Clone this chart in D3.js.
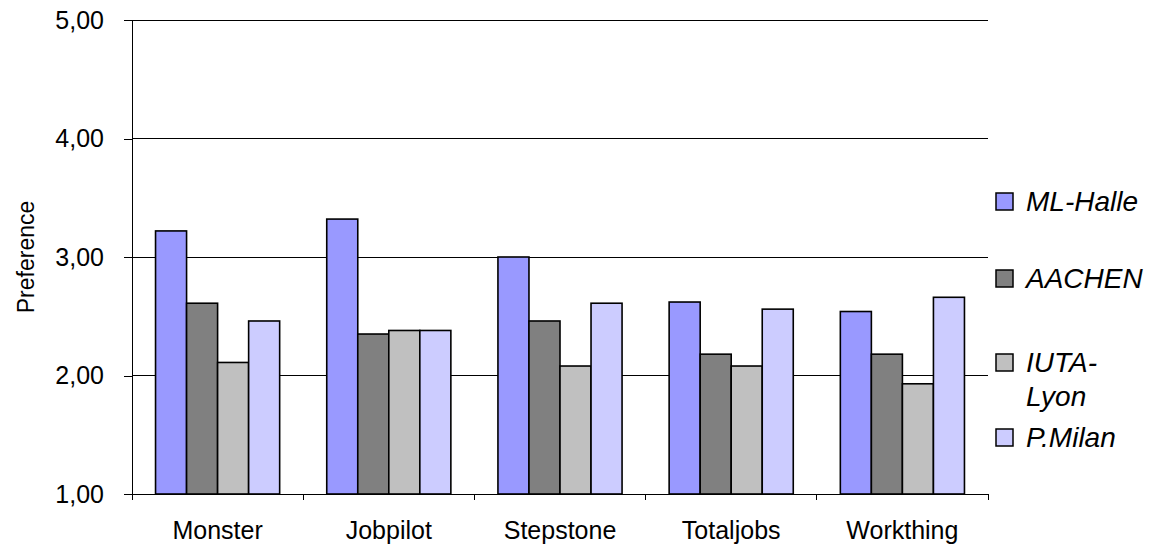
<!DOCTYPE html>
<html>
<head>
<meta charset="utf-8">
<script src="https://cdn.jsdelivr.net/npm/d3@7"></script>
<style>
  body { margin: 0; background: #fff; }
  svg { display: block; font-family: "Liberation Sans", Arial, sans-serif; }
</style>
</head>
<body>
<svg id="chart" width="1154" height="544"></svg>
<script>
const categories = ["Monster", "Jobpilot", "Stepstone", "Totaljobs", "Workthing"];
const seriesNames = ["ML-Halle", "AACHEN", "IUTA-Lyon", "P.Milan"];
const legendLabels = [["ML-Halle"], ["AACHEN"], ["IUTA-", "Lyon"], ["P.Milan"]];
const seriesColors = ["#9999FF", "#808080", "#C0C0C0", "#CCCCFF"];
const mlHalle  = [3.22, 3.32, 3.00, 2.62, 2.54];
const aachen   = [2.61, 2.35, 2.46, 2.18, 2.18];
const iutaLyon = [2.11, 2.38, 2.08, 2.08, 1.93];
const pMilan   = [2.46, 2.38, 2.61, 2.56, 2.66];
const yTicks = [1, 2, 3, 4, 5];
const yLabel = "Preference";

const seriesValues = [mlHalle, aachen, iutaLyon, pMilan];

const svg = d3.select("#chart");
const mLeft = 132, mRight = 988, mTop = 20, mBottom = 494;

const x0 = d3.scaleBand().domain(categories).range([mLeft, mRight])
  .paddingInner(0.275).paddingOuter(0.1375);
const x1 = d3.scaleBand().domain(seriesNames).range([0, x0.bandwidth()]);
const y = d3.scaleLinear().domain([1, 5]).range([mBottom, mTop]);
const color = d3.scaleOrdinal().domain(seriesNames).range(seriesColors);
const fmt = v => d3.format(".2f")(v).replace(".", ",");

// gridlines
svg.append("g").selectAll("line").data(yTicks.filter(t => t > 1)).join("line")
  .attr("x1", mLeft).attr("x2", mRight)
  .attr("y1", d => y(d)).attr("y2", d => y(d))
  .attr("stroke", "#000").attr("stroke-width", 1).attr("shape-rendering", "crispEdges");

// bars
const rows = categories.map((c, i) => ({ cat: c, vals: seriesNames.map((s, j) => ({ s, v: seriesValues[j][i] })) }));
svg.append("g").selectAll("g").data(rows).join("g")
  .attr("transform", d => `translate(${x0(d.cat)},0)`)
  .selectAll("rect").data(d => d.vals).join("rect")
  .attr("x", d => x1(d.s)).attr("width", x1.bandwidth())
  .attr("y", d => y(d.v)).attr("height", d => y(1) - y(d.v))
  .attr("fill", d => color(d.s))
  .attr("stroke", "#000").attr("stroke-width", 1.6);

// y axis
const yAxis = d3.axisLeft(y).tickValues(yTicks).tickFormat(fmt).tickSize(8).tickPadding(20);
const gy = svg.append("g").attr("transform", `translate(${mLeft},0)`).call(yAxis);
gy.select(".domain").remove();
gy.selectAll(".tick line").attr("stroke", "#000").attr("shape-rendering", "crispEdges");
gy.selectAll(".tick text").attr("font-size", 25).attr("fill", "#000")
  .attr("font-family", "Liberation Sans, Arial, sans-serif").attr("dy", "0.33em");
svg.append("line").attr("x1", mLeft).attr("x2", mLeft).attr("y1", y(5)).attr("y2", mBottom + 6)
  .attr("stroke", "#000").attr("shape-rendering", "crispEdges");

// x axis
svg.append("line").attr("x1", mLeft).attr("x2", mRight).attr("y1", mBottom).attr("y2", mBottom)
  .attr("stroke", "#000").attr("shape-rendering", "crispEdges");
const bounds = categories.map(c => x0(c) - x0.step() * x0.paddingInner() / 2).concat([mRight]);
svg.append("g").selectAll("line").data(bounds).join("line")
  .attr("x1", d => d).attr("x2", d => d).attr("y1", mBottom).attr("y2", mBottom + 6)
  .attr("stroke", "#000").attr("shape-rendering", "crispEdges");
svg.append("g").selectAll("text").data(categories).join("text")
  .attr("x", d => x0(d) + x0.bandwidth() / 2).attr("y", 539)
  .attr("text-anchor", "middle").attr("font-size", 25).attr("fill", "#000")
  .text(d => d);

// y label
svg.append("text").attr("transform", "translate(34,257) rotate(-90)")
  .attr("text-anchor", "middle").attr("font-size", 23).attr("fill", "#000").text(yLabel);

// legend
const legendBase = [211, 288, 372, 447];
const lg = svg.append("g").selectAll("g").data(seriesNames).join("g");
lg.append("rect").attr("x", 996).attr("y", (d, i) => legendBase[i] - 18)
  .attr("width", 17).attr("height", 17)
  .attr("fill", d => color(d)).attr("stroke", "#000").attr("stroke-width", 1.5);
lg.append("text").attr("x", 1026).attr("y", (d, i) => legendBase[i])
  .attr("font-size", 28).attr("font-style", "italic").attr("fill", "#000")
  .selectAll("tspan").data((d, i) => legendLabels[i]).join("tspan")
  .attr("x", 1026).attr("dy", (d, k) => k === 0 ? 0 : 34).text(d => d);
</script>
</body>
</html>
